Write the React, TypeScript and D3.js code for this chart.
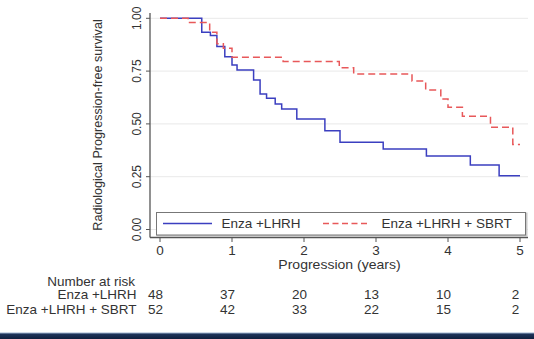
import React from "react";
import * as d3 from "d3";

const blueTimes = [0, 0.58, 0.7, 0.79, 0.9, 1.0, 1.07, 1.3, 1.39, 1.48, 1.6, 1.69, 1.9, 2.29, 2.5, 3.1, 3.7, 4.31, 4.71, 5.0];
const blueSurv = [1.0, 0.934, 0.918, 0.866, 0.818, 0.779, 0.755, 0.708, 0.642, 0.621, 0.594, 0.571, 0.523, 0.468, 0.413, 0.381, 0.348, 0.305, 0.255, 0.255];
const redTimes = [0, 0.39, 0.69, 0.79, 0.88, 1.0, 1.71, 2.49, 2.69, 3.5, 3.69, 3.9, 4.0, 4.2, 4.59, 4.9, 5.0];
const redSurv = [1.0, 0.98, 0.934, 0.88, 0.858, 0.815, 0.795, 0.766, 0.736, 0.703, 0.66, 0.618, 0.579, 0.536, 0.484, 0.403, 0.403];

const yTicks = [0, 0.25, 0.5, 0.75, 1.0];
const xTicks = [0, 1, 2, 3, 4, 5];
const groups = ["Enza +LHRH", "Enza +LHRH + SBRT"];
const riskBlue = [48, 37, 20, 13, 10, 2];
const riskRed = [52, 42, 33, 22, 15, 2];

const BLUE = "#3b3fc0";
const RED = "#e8585a";
const FONT = "Liberation Sans, Arial, sans-serif";
const SX = 1.08;

function T(props: { x: number; y: number; anchor?: string; size?: number; children: React.ReactNode }) {
  const { x, y, anchor = "start", size = 12.5, children } = props;
  return (
    <text
      transform={`translate(${x},${y}) scale(${SX},1)`}
      textAnchor={anchor}
      dominantBaseline="central"
      fontSize={size}
      fill="#333"
    >
      {children}
    </text>
  );
}

export default function App() {
  const x = d3.scaleLinear().domain([0, 5]).range([160, 520]);
  const y = d3.scaleLinear().domain([0, 1]).range([229.5, 18.3]);
  const line = d3
    .line<[number, number]>()
    .x((d) => x(d[0]))
    .y((d) => y(d[1]))
    .curve(d3.curveStepAfter);
  const bluePts = blueTimes.map((t, i) => [t, blueSurv[i]] as [number, number]);
  const redPts = redTimes.map((t, i) => [t, redSurv[i]] as [number, number]);
  const axisColor = "#555";

  return (
    <svg
      width={534}
      height={339}
      style={{ position: "absolute", left: 0, top: 0, fontFamily: FONT }}
    >
      <defs>
        <linearGradient id="band" x1="0" y1="0" x2="0" y2="1">
          <stop offset="0" stopColor="#9fb6d2" />
          <stop offset="0.3" stopColor="#1c3258" />
          <stop offset="1" stopColor="#0f1f3e" />
        </linearGradient>
      </defs>
      <rect x={0} y={0} width={534} height={339} fill="#fff" />
      {yTicks.map((t) => (
        <line key={"g" + t} x1={150} x2={528} y1={y(t)} y2={y(t)} stroke="#e9e9e9" strokeWidth={1} />
      ))}
      <line x1={150} x2={150} y1={13} y2={237.5} stroke={axisColor} strokeWidth={1.3} />
      {yTicks.map((t) => (
        <g key={"y" + t}>
          <line x1={146} x2={150} y1={y(t)} y2={y(t)} stroke={axisColor} />
          <text
            transform={`translate(137,${y(t)}) rotate(-90)`}
            textAnchor="middle"
            dominantBaseline="central"
            fontSize={12}
            fill="#333"
          >
            {t.toFixed(2)}
          </text>
        </g>
      ))}
      <text
        transform={`translate(98,125) rotate(-90)`}
        textAnchor="middle"
        dominantBaseline="central"
        fontSize={12.6}
        fill="#333"
      >
        Radiological Progression-free survival
      </text>
      <line x1={150} x2={528} y1={237.5} y2={237.5} stroke={axisColor} strokeWidth={1.3} />
      {xTicks.map((t) => (
        <g key={"x" + t}>
          <line x1={x(t)} x2={x(t)} y1={237.5} y2={242} stroke={axisColor} />
          <T x={x(t)} y={250.5} anchor="middle">
            {t}
          </T>
        </g>
      ))}
      <T x={339.5} y={265} anchor="middle" size={13}>
        Progression (years)
      </T>
      <path d={line(bluePts) || ""} fill="none" stroke={BLUE} strokeWidth={1.5} />
      <path d={line(redPts) || ""} fill="none" stroke={RED} strokeWidth={1.5} strokeDasharray="7,4" />
      <rect x={157.5} y={213.5} width={369} height={22.5} fill="#fff" stroke="#c8c8c8" strokeWidth={2} />
      <rect x={156.5} y={212.5} width={369} height={22.5} fill="#fff" stroke="#777" strokeWidth={1} />
      <line x1={163} x2={212} y1={223.5} y2={223.5} stroke={BLUE} strokeWidth={1.3} />
      <T x={221.5} y={223.5}>{groups[0]}</T>
      <line x1={323} x2={370} y1={223.5} y2={223.5} stroke={RED} strokeWidth={1.3} strokeDasharray="6,3.5" />
      <T x={381.5} y={223.5}>{groups[1]}</T>
      <T x={135} y={281.5} anchor="end">Number at risk</T>
      <T x={136.5} y={295} anchor="end">{groups[0]}</T>
      <T x={136.5} y={309.3} anchor="end">{groups[1]}</T>
      {riskBlue.map((n, i) => (
        <T key={"rb" + i} x={x(xTicks[i]) - 4.5} y={295} anchor="middle">
          {n}
        </T>
      ))}
      {riskRed.map((n, i) => (
        <T key={"rr" + i} x={x(xTicks[i]) - 4.5} y={309.3} anchor="middle">
          {n}
        </T>
      ))}
      <rect x={0} y={332.5} width={534} height={6.5} fill="url(#band)" />
    </svg>
  );
}
